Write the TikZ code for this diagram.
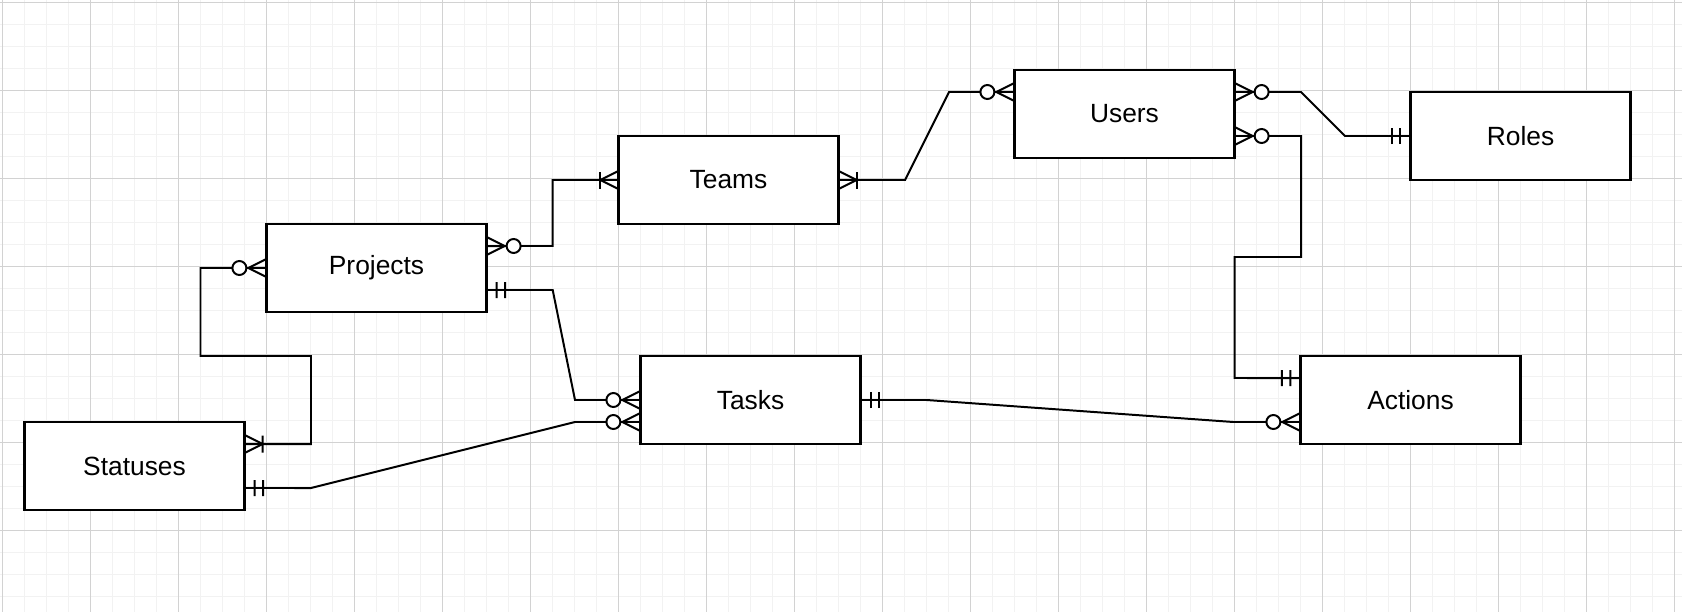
\documentclass[tikz,border=0pt]{standalone}
\usepackage{fontspec}
\setmainfont{Liberation Sans}
\usetikzlibrary{decorations.markings}

\definecolor{gridminor}{HTML}{F2F2F2}
\definecolor{gridmajor}{HTML}{D2D2D2}

% ER end markers, drawn along the connector (#1 = 1 at the start, -1 at the end)
\newcommand\zmanytip[1]{%
  \draw[line width=1.13pt] (#1*0,8.5) -- (#1*17,0) -- (#1*0,-8.5);
  \draw[line width=1.13pt, fill=white] (#1*26,0) circle[radius=0.14cm];}
\newcommand\omanytip[1]{%
  \draw[line width=1.13pt] (#1*0,8.5) -- (#1*17,0) -- (#1*0,-8.5);
  \draw[line width=1.13pt] (#1*17,8.5) -- (#1*17,-8.5);}
\newcommand\oonetip[1]{%
  \draw[line width=1.13pt] (#1*9,8) -- (#1*9,-8);
  \draw[line width=1.13pt] (#1*17.5,8) -- (#1*17.5,-8);}

\begin{document}
\begin{tikzpicture}[
    x=0.02cm, y=-0.02cm,
    entity/.style={draw, fill=white, line width=1.3pt, minimum width=4.4cm,
      minimum height=1.76cm, inner sep=0pt, font=\fontsize{15}{18}\selectfont},
    conn/.style={line width=1.13pt},
    zmany start/.style={postaction={decorate, decoration={markings, mark=at position 0 with {\zmanytip{1}}}}},
    zmany end/.style={postaction={decorate, decoration={markings, mark=at position 1 with {\zmanytip{-1}}}}},
    omany start/.style={postaction={decorate, decoration={markings, mark=at position 0 with {\omanytip{1}}}}},
    omany end/.style={postaction={decorate, decoration={markings, mark=at position 1 with {\omanytip{-1}}}}},
    oone start/.style={postaction={decorate, decoration={markings, mark=at position 0 with {\oonetip{1}}}}},
    oone end/.style={postaction={decorate, decoration={markings, mark=at position 1 with {\oonetip{-1}}}}},
  ]
    \useasboundingbox (0,0) rectangle (1682,612);
    \fill[white] (0,0) rectangle (1682,612);
    % grid
    \foreach \g in {0,...,76} {
      \draw[gridminor, line width=0.85pt] (2.3+\g*22,0) -- (2.3+\g*22,612);
    }
    \foreach \g in {0,...,27} {
      \draw[gridminor, line width=0.85pt] (0,2.3+\g*22) -- (1682,2.3+\g*22);
    }
    \foreach \g in {0,...,19} {
      \draw[gridmajor, line width=0.6pt] (2.3+\g*88,0) -- (2.3+\g*88,612);
    }
    \foreach \g in {0,...,6} {
      \draw[gridmajor, line width=0.6pt] (0,2.3+\g*88) -- (1682,2.3+\g*88);
    }
    % entities
    \node[entity] (projects) at (376.5,268) {Projects};
    \node[entity] (teams) at (728.5,180) {Teams};
    \node[entity] (users) at (1124.5,114) {Users};
    \node[entity] (roles) at (1520.5,136) {Roles};
    \node[entity] (tasks) at (750.5,400) {Tasks};
    \node[entity] (actions) at (1410.5,400) {Actions};
    \node[entity] (statuses) at (134.5,466) {Statuses};
    % relations
    \draw[conn, zmany start, omany end] (projects.west) -- (200.5,268) -- (200.5,356)
      -- (311,356) -- (311,444) -- ([yshift=0.44cm]statuses.east);
    \draw[conn, oone start, zmany end] ([yshift=-0.44cm]statuses.east) -- (311,488)
      -- (575,422) -- ([yshift=-0.44cm]tasks.west);
    \draw[conn, oone start, zmany end] ([yshift=-0.44cm]projects.east) -- (552.7,290)
      -- (575,400) -- (tasks.west);
    \draw[conn, zmany start, omany end] ([yshift=0.44cm]projects.east) -- (552.7,246)
      -- (552.7,180) -- (teams.west);
    \draw[conn, omany start, zmany end] (teams.east) -- (905,180) -- (949,92)
      -- ([yshift=0.44cm]users.west);
    \draw[conn, zmany start, oone end] ([yshift=0.44cm]users.east) -- (1301,92)
      -- (1345,136) -- (roles.west);
    \draw[conn, zmany start, oone end] ([yshift=-0.44cm]users.east) -- (1301,136)
      -- (1301,257) -- (1234.7,257) -- (1234.7,378) -- ([yshift=0.44cm]actions.west);
    \draw[conn, oone start, zmany end] (tasks.east) -- (926.7,400) -- (1233.3,422)
      -- ([yshift=-0.44cm]actions.west);
  \end{tikzpicture}
\end{document}
